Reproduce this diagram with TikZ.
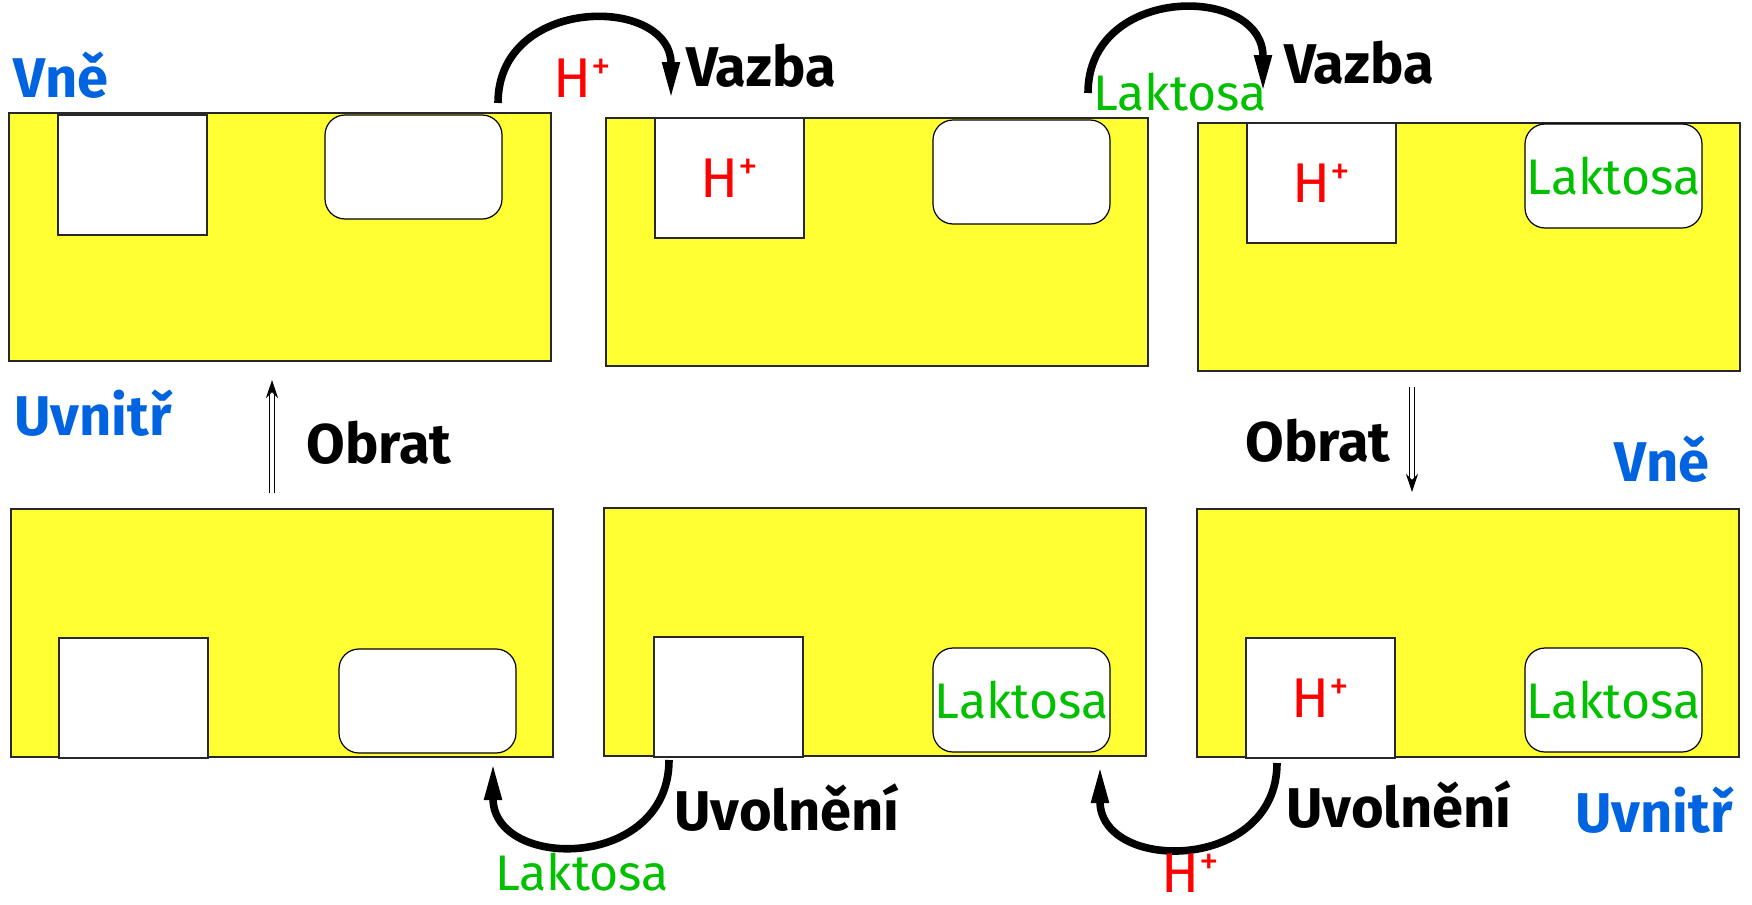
\documentclass[tikz,border=0pt]{standalone}
\usepackage{fontspec}
\setmainfont{Fira Sans}
\usetikzlibrary{arrows.meta}
\definecolor{panelyellow}{RGB}{255,255,51}
\definecolor{lblue}{RGB}{0,100,225}
\definecolor{lred}{RGB}{255,0,0}
\definecolor{lgreen}{RGB}{0,192,0}
\definecolor{edgegray}{RGB}{40,40,40}
\begin{document}
\begin{tikzpicture}[x=0.5pt,y=-0.5pt,
  panel/.style={draw=edgegray,line width=0.6pt,fill=panelyellow,anchor=north west,inner sep=0pt,outer sep=0pt,minimum width=271pt,minimum height=124pt},
  hbox/.style={draw=edgegray,line width=0.6pt,fill=white,anchor=north west,inner sep=0pt,outer sep=0pt,minimum width=74.5pt,minimum height=60pt},
  lbox/.style={draw=black,line width=0.6pt,fill=white,rounded corners=10pt,anchor=north west,inner sep=0pt,outer sep=0pt,minimum width=88.5pt,minimum height=52pt},
  bigarc/.style={line width=3.8pt,-{Triangle[length=19pt,width=8pt]}},
  turn/.style={double,double distance=1.6pt,line width=0.55pt,-{Stealth[length=9pt,width=6pt]}},
  lab/.style={font=\fontsize{28}{32}\selectfont\bfseries,inner sep=0pt},
  side/.style={lab,text=lblue},
  hp/.style={font=\fontsize{28}{32}\selectfont,text=lred,inner sep=0pt},
  lak/.style={font=\fontsize{25}{30}\selectfont,text=lgreen,inner sep=0pt}
]
\fill[white] (0,0) rectangle (1752,905);
\useasboundingbox (0,0) rectangle (1752,905);

% panels
\node[panel] (p1) at (9,113) {};
\node[panel] (p2) at (606,118) {};
\node[panel] (p3) at (1198,123) {};
\node[panel] (p4) at (11,509) {};
\node[panel] (p5) at (604,508) {};
\node[panel] (p6) at (1197,509) {};

% square carriers
\node[hbox] (s1) at (58,115) {};
\node[hbox,hp] (s2) at (655,118) {H\textsuperscript{+}};
\node[hbox,hp] (s3) at (1247,123) {H\textsuperscript{+}};
\node[hbox] (s4) at (59,638) {};
\node[hbox] (s5) at (654,637) {};
\node[hbox,hp] (s6) at (1246,638) {H\textsuperscript{+}};

% rounded carriers
\node[lbox] (r1) at (325,115) {};
\node[lbox] (r2) at (933,120) {};
\node[lbox,lak] (r3) at (1525,124) {Laktosa};
\node[lbox] (r4) at (339,649) {};
\node[lbox,lak] (r5) at (933,648) {Laktosa};
\node[lbox,lak] (r6) at (1525,648) {Laktosa};

% side labels
\node[side] (vne1) at (61,75) {Vně};
\node[side] (uv1) at (93,413) {Uvnitř};
\node[side] (vne2) at (1662,459) {Vně};
\node[side] (uv2) at (1654,810) {Uvnitř};

% big arcs
\coordinate (a1s) at (498,103);
\coordinate (a1e) at (671,100);
\draw[bigarc] (a1s) .. controls (498,-5) and (671,-5) .. (a1e);
\coordinate (a2s) at (1088,93);
\coordinate (a2e) at (1263,93);
\draw[bigarc] (a2s) .. controls (1088,-16) and (1263,-16) .. (a2e);
\coordinate (a3s) at (669,760);
\coordinate (a3e) at (493,762);
\draw[bigarc] (a3s) .. controls (669,871) and (493,871) .. (a3e);
\coordinate (a4s) at (1277,763);
\coordinate (a4e) at (1100,765);
\draw[bigarc] (a4s) .. controls (1277,873) and (1100,873) .. (a4e);

% arc labels
\node[hp] (h1) at (583,78) {H\textsuperscript{+}};
\node[lab] (vz1) at (761,66) {Vazba};
\node[lak] (l1) at (1180,92) {Laktosa};
\node[lab] (vz2) at (1359,63) {Vazba};
\node[lab] (uo1) at (787,808) {Uvolnění};
\node[lak] (l2) at (582,872) {Laktosa};
\node[lab] (uo2) at (1399,805) {Uvolnění};
\node[hp] (h2) at (1191,873) {H\textsuperscript{+}};

% turn arrows
\coordinate (o1s) at (272,493);
\coordinate (o1e) at (272,380);
\draw[turn] (o1s) -- (o1e);
\node[lab] (ob1) at (379,443) {Obrat};
\coordinate (o2s) at (1412,387);
\coordinate (o2e) at (1412,492);
\draw[turn] (o2s) -- (o2e);
\node[lab] (ob2) at (1318,441) {Obrat};
\end{tikzpicture}
\end{document}
